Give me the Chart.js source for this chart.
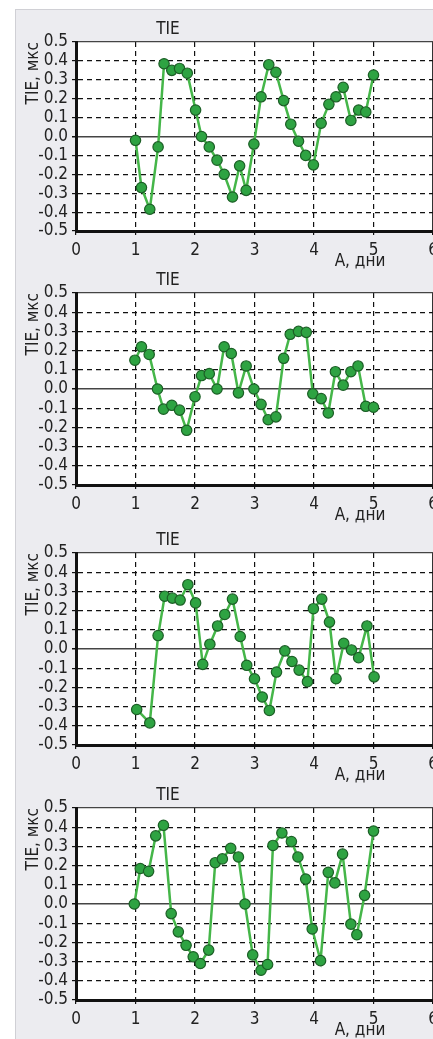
<!DOCTYPE html>
<html>
<head>
<meta charset="utf-8">
<script src="https://cdn.jsdelivr.net/npm/chart.js@4.4.1/dist/chart.umd.min.js"></script>
<style>
  html, body { margin: 0; padding: 0; background: #fff; overflow: hidden; width: 433px; height: 1039px; }
  #panel { position: absolute; left: 15px; top: 9px; width: 430px; height: 1040px; background: #ececf0;
           border-left: 1px solid #d0d0d5; border-top: 1px solid #d0d0d5; }
  canvas { position: absolute; left: 15px; }
</style>
</head>
<body>
<div id="panel"></div>
<canvas id="c1"></canvas>
<canvas id="c2"></canvas>
<canvas id="c3"></canvas>
<canvas id="c4"></canvas>
<script>
// TIE, мкс vs days, four runs
const days1 = [1.0, 1.1, 1.24, 1.38, 1.48, 1.61, 1.74, 1.87, 2.01, 2.11, 2.24, 2.37, 2.49, 2.63, 2.75, 2.86, 2.99,
               3.11, 3.24, 3.36, 3.49, 3.61, 3.74, 3.86, 3.99, 4.12, 4.25, 4.37, 4.49, 4.62, 4.75, 4.87, 5.0];
const tie1 = [-0.02, -0.27, -0.385, -0.055, 0.385, 0.35, 0.36, 0.335, 0.14, 0.0, -0.055, -0.125, -0.2, -0.32, -0.155, -0.285, -0.04,
              0.21, 0.38, 0.34, 0.19, 0.065, -0.025, -0.1, -0.15, 0.07, 0.17, 0.21, 0.26, 0.085, 0.14, 0.13, 0.325];

const days2 = [0.99, 1.1, 1.23, 1.37, 1.47, 1.61, 1.74, 1.86, 2.0, 2.11, 2.24, 2.37, 2.49, 2.61, 2.73, 2.86, 2.99,
               3.11, 3.23, 3.36, 3.49, 3.6, 3.74, 3.87, 3.98, 4.12, 4.24, 4.36, 4.49, 4.62, 4.74, 4.87, 5.0];
const tie2 = [0.15, 0.22, 0.18, 0.0, -0.105, -0.085, -0.11, -0.215, -0.04, 0.07, 0.08, 0.0, 0.22, 0.185, -0.02, 0.12, 0.0,
              -0.08, -0.16, -0.145, 0.16, 0.285, 0.3, 0.295, -0.025, -0.05, -0.125, 0.09, 0.02, 0.09, 0.12, -0.09, -0.095];

const days3 = [1.02, 1.24, 1.38, 1.49, 1.62, 1.75, 1.88, 2.01, 2.13, 2.25, 2.38, 2.5, 2.63, 2.76, 2.87, 3.0,
               3.13, 3.25, 3.37, 3.51, 3.63, 3.75, 3.89, 3.99, 4.13, 4.26, 4.37, 4.5, 4.63, 4.75, 4.89, 5.01];
const tie3 = [-0.315, -0.385, 0.07, 0.275, 0.265, 0.255, 0.335, 0.24, -0.08, 0.025, 0.12, 0.18, 0.26, 0.065, -0.085, -0.155,
              -0.25, -0.32, -0.12, -0.01, -0.065, -0.11, -0.17, 0.21, 0.26, 0.14, -0.155, 0.03, -0.005, -0.045, 0.12, -0.145];

const days4 = [0.98, 1.08, 1.22, 1.34, 1.47, 1.6, 1.72, 1.85, 1.97, 2.09, 2.23, 2.34, 2.46, 2.6, 2.73, 2.84, 2.97,
               3.11, 3.22, 3.31, 3.46, 3.62, 3.73, 3.86, 3.97, 4.11, 4.24, 4.35, 4.48, 4.62, 4.72, 4.85, 5.0];
const tie4 = [0.0, 0.185, 0.17, 0.355, 0.41, -0.05, -0.145, -0.215, -0.275, -0.31, -0.24, 0.215, 0.235, 0.29, 0.245, 0.0, -0.265,
              -0.345, -0.315, 0.305, 0.37, 0.325, 0.245, 0.13, -0.13, -0.295, 0.165, 0.11, 0.26, -0.105, -0.16, 0.045, 0.38];

const chartTitle = 'TIE';
const yTitle = 'TIE, мкс';
const xTitle = 'А, дни';

const FONT = '"Liberation Sans Narrow", "DejaVu Sans Condensed", "Roboto", sans-serif';
Chart.defaults.font.family = FONT;
Chart.defaults.font.size = 17;
Chart.defaults.color = '#222';

// page position of each plot area (top, height)
const panels = [
    { id: 'c1', days: days1, tie: tie1, top: 42, h: 189 },
    { id: 'c2', days: days2, tie: tie2, top: 293, h: 192 },
    { id: 'c3', days: days3, tie: tie3, top: 553, h: 192 },
    { id: 'c4', days: days4, tie: tie4, top: 808, h: 192 }
];

const PAD_TOP = 36;
const X_AXIS_H = 44;

const near = (a, b) => Math.abs(a - b) < 1e-6;

const panelDecor = {
    id: 'panelDecor',
    beforeDraw(chart) {
        const { ctx, chartArea: a } = chart;
        ctx.save();
        ctx.fillStyle = '#fff';
        ctx.fillRect(a.left, a.top, a.right - a.left, a.bottom - a.top);
        ctx.restore();
    },
    afterDraw(chart) {
        const { ctx, chartArea: a } = chart;
        ctx.save();
        ctx.font = '17px ' + FONT;
        ctx.fillStyle = '#222';
        ctx.textAlign = 'center';
        ctx.textBaseline = 'middle';
        ctx.fillText(chartTitle, a.left + 92, a.top - 12);
        ctx.fillText(xTitle, a.left + 284, a.bottom + 31);
        ctx.restore();
    }
};

function makeChart(p) {
    const canvas = document.getElementById(p.id);
    canvas.width = 430;
    canvas.height = PAD_TOP + p.h + X_AXIS_H;
    canvas.style.top = (p.top - PAD_TOP) + 'px';

    const points = p.days.map((d, i) => ({ x: d, y: p.tie[i] }));

    new Chart(canvas.getContext('2d'), {
        type: 'line',
        data: {
            datasets: [{
                data: points,
                borderColor: '#45b649',
                borderWidth: 2.5,
                pointRadius: 5.2,
                pointBackgroundColor: '#2ea342',
                pointBorderColor: '#1c5f26',
                pointBorderWidth: 1.2,
                tension: 0,
                fill: false
            }]
        },
        options: {
            responsive: false,
            animation: false,
            layout: { padding: { top: PAD_TOP, right: 12, left: 0, bottom: 0 } },
            plugins: { legend: { display: false }, tooltip: { enabled: false } },
            scales: {
                x: {
                    type: 'linear',
                    min: 0,
                    max: 6,
                    afterFit: s => { s.height = X_AXIS_H; s.paddingRight = 0; },
                    ticks: { stepSize: 1, padding: 5, color: '#222', maxRotation: 0, autoSkip: false },
                    grid: {
                        color: c => (c.tick && near(c.tick.value, 6)) ? '#333' : '#111',
                        lineWidth: c => (c.tick && near(c.tick.value, 6)) ? 1.5 : 1.2,
                        tickLength: 4,
                        tickColor: '#111',
                        tickBorderDash: []
                    },
                    border: {
                        color: '#111',
                        width: 3,
                        dash: c => (c.tick && !near(c.tick.value, 6)) ? [5, 4] : []
                    }
                },
                y: {
                    min: -0.5,
                    max: 0.5,
                    afterFit: s => { s.width = 61; },
                    ticks: {
                        stepSize: 0.1,
                        padding: 4,
                        color: '#222',
                        autoSkip: false,
                        callback: v => Math.abs(v) < 1e-9 ? '0.0' : Number(v).toFixed(1)
                    },
                    title: {
                        display: true,
                        text: yTitle,
                        align: 'end',
                        color: '#222',
                        font: { size: 17 },
                        padding: { top: 8, bottom: 0 }
                    },
                    grid: {
                        color: c => (c.tick && (near(c.tick.value, 0) || near(c.tick.value, 0.5))) ? '#444' : '#111',
                        lineWidth: c => (c.tick && near(c.tick.value, 0)) ? 1.5 : 1.2,
                        tickLength: 4,
                        tickColor: '#111',
                        tickBorderDash: []
                    },
                    border: {
                        color: '#111',
                        width: 3,
                        dash: c => (c.tick && !near(c.tick.value, 0) && !near(c.tick.value, 0.5)) ? [5, 4] : []
                    }
                }
            }
        },
        plugins: [panelDecor]
    });
}

panels.forEach(makeChart);
</script>
</body>
</html>
